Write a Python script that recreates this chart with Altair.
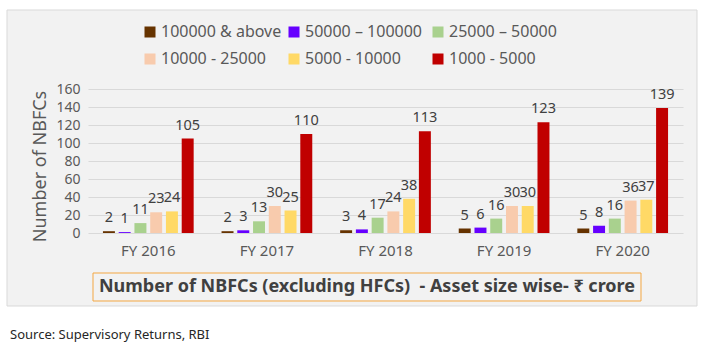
import altair as alt
import pandas as pd

FONT = "Noto Sans"

years = ["FY 2016", "FY 2017", "FY 2018", "FY 2019", "FY 2020"]
series = ["100000 & above", "50000 – 100000", "25000 – 50000",
          "10000 - 25000", "5000 - 10000", "1000 - 5000"]
colors = ["#663300", "#6600ff", "#a9d18e", "#f8cbad", "#ffd966", "#c00000"]

v_100000_above = [2, 2, 3, 5, 5]
v_50000_100000 = [1, 3, 4, 6, 8]
v_25000_50000 = [11, 13, 17, 16, 16]
v_10000_25000 = [23, 30, 24, 30, 36]
v_5000_10000 = [24, 25, 38, 30, 37]
v_1000_5000 = [105, 110, 113, 123, 139]
all_values = [v_100000_above, v_50000_100000, v_25000_50000,
              v_10000_25000, v_5000_10000, v_1000_5000]

title_text = "Number of NBFCs (excluding HFCs) \u00a0- Asset size wise- ₹ crore"
source_text = "Source: Supervisory Returns, RBI"

rows = []
for s, vals in zip(series, all_values):
    for yr, v in zip(years, vals):
        rows.append({"year": yr, "series": s, "value": v})
df = pd.DataFrame(rows)

x_enc = alt.X("year:N", sort=years, title=None,
              scale=alt.Scale(paddingInner=0.235, paddingOuter=0.126),
              axis=alt.Axis(labelFontSize=15, labelColor="#595959", labelPadding=10,
                            domain=False, ticks=False, labelAngle=0, labelFont=FONT))
xo_enc = alt.XOffset("series:N", sort=series,
                     scale=alt.Scale(paddingInner=0.24, paddingOuter=0))
y_enc = alt.Y("value:Q", scale=alt.Scale(domain=[0, 160]),
              axis=alt.Axis(values=list(range(0, 161, 20)), domain=False, ticks=False,
                            labelFontSize=14, labelColor="#595959", labelPadding=8,
                            labelFont=FONT,
                            gridColor="#d9d9d9", gridWidth=1,
                            title="Number of NBFCs", titleFontSize=18,
                            titleFontWeight="normal", titleColor="#595959",
                            titleFont=FONT,
                            titleX=-48, titleY=77, titleAngle=-90,
                            titleAlign="center", titleBaseline="middle"))

bars = alt.Chart(df).mark_bar().encode(
    x=x_enc, xOffset=xo_enc, y=y_enc,
    color=alt.Color("series:N", sort=series,
                    scale=alt.Scale(domain=series, range=colors),
                    legend=alt.Legend(orient="none", legendX=54, legendY=-65,
                                      direction="horizontal", columns=3, title=None,
                                      symbolType="square", symbolSize=121,
                                      symbolStrokeWidth=0,
                                      labelFontSize=16, labelColor="#595959",
                                      labelFont=FONT,
                                      gridAlign="all", columnPadding=4, rowPadding=11,
                                      labelOffset=3, padding=0, labelLimit=300)),
)

labels = alt.Chart(df).mark_text(baseline="bottom", dy=-6, fontSize=14.5,
                                 color="#404040", font=FONT).encode(
    x=x_enc, xOffset=xo_enc, y=y_enc, text="value:Q")

dummy = pd.DataFrame({"a": [0]})


def rect(x1, x2, y1, y2, **kw):
    return alt.Chart(dummy).mark_rect(**kw).encode(
        x=alt.value(x1), x2=alt.value(x2), y=alt.value(y1), y2=alt.value(y2))


strips = [
    rect(-88, 620, -89, -79, fill="white"),
    rect(-88, 620, 217, 261, fill="white"),
    rect(-88, -81, -89, 261, fill="white"),
    rect(609, 620, -89, 261, fill="white"),
]
border = rect(-81, 609, -79, 217, fill="#f2f2f2", fillOpacity=0,
              stroke="#d9d9d9", strokeWidth=1)
title_box = rect(5, 553, 184, 212, fill="#f2f2f2", fillOpacity=0,
                 stroke="#f4a742", strokeWidth=1)

title_mark = alt.Chart(pd.DataFrame({"t": [title_text]})).mark_text(
    fontSize=18, fontWeight="bold", color="#404040", font=FONT,
    align="center", baseline="middle").encode(
    x=alt.value(279), y=alt.value(198), text="t:N")

source_mark = alt.Chart(pd.DataFrame({"t": [source_text]})).mark_text(
    fontSize=13, color="#262626", font=FONT,
    align="left", baseline="middle").encode(
    x=alt.value(-78), y=alt.value(246), text="t:N")

chart = alt.layer(*strips, border, title_box, bars, labels, title_mark, source_mark).properties(
    width=595, height=144,
    autosize=alt.AutoSizeParams(type="none"),
    padding={"left": 88, "top": 89, "right": 25, "bottom": 117},
    background="#f2f2f2",
).configure_view(strokeWidth=0)

chart.save("out.html", embed_options={"renderer": "svg", "actions": False})
